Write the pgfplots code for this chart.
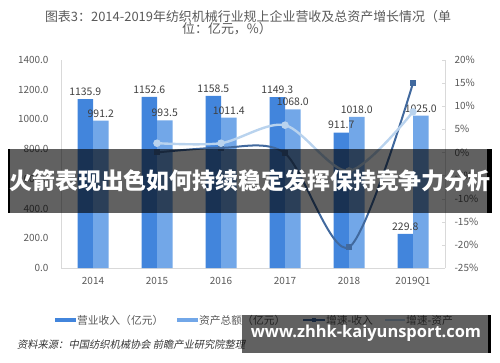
\documentclass[border=0pt]{standalone}
\usepackage{pgfplots}
\pgfplotsset{compat=1.18}
\usepackage{fontspec}
\setmainfont{Noto Sans CJK SC}
\newfontfamily\cjkit[FakeSlant=0.2]{Noto Sans CJK SC}
\newfontfamily\wm{Open Sans}
\definecolor{barA}{HTML}{4285DC}
\definecolor{barB}{HTML}{72A7E8}
\definecolor{lineA}{HTML}{41699E}
\definecolor{lineB}{HTML}{B9D3EE}
\definecolor{txt}{HTML}{595959}
\definecolor{lbl}{HTML}{404040}
\begin{document}
\begin{tikzpicture}[x=1bp,y=1bp]
\path[use as bounding box] (0,0) rectangle (500,362);
% title
\node[text=txt, font=\fontsize{13}{15}\selectfont] at (248,345) {图表3：2014-2019年纺织机械行业规上企业营收及总资产增长情况（单};
\node[text=txt, font=\fontsize{13}{15}\selectfont] at (227,333) {位：亿元，\%）};
\begin{axis}[at={(61bp,94bp)}, anchor=south west, scale only axis,
  width=384bp, height=208bp,
  xmin=-0.5, xmax=5.5, ymin=0, ymax=1400,
  axis x line*=bottom, axis y line*=left,
  axis line style={draw=black!15, -},
  xtick={0,...,5}, xticklabels={2014,2015,2016,2017,2018,2019Q1},
  ytick={0,200,...,1400},
  major tick length=0pt,
  /pgf/number format/assume math mode=true,
  yticklabel style={/pgf/number format/.cd, fixed, fixed zerofill, precision=1, 1000 sep={}, /tikz/.cd,
     font=\fontsize{10}{12}\selectfont, text=txt, xshift=-9bp},
  xticklabel style={font=\fontsize{10}{12}\selectfont, text=txt, yshift=-6bp},
  ybar=0pt, bar width=15.5bp,
  nodes near coords={\pgfmathprintnumber[fixed,fixed zerofill,precision=1,1000 sep={}]{\pgfplotspointmeta}},
  every node near coord/.append style={font=\fontsize{10.5}{12}\selectfont, text=lbl},
]
\addplot[fill=barA, draw=none] coordinates {(0,1135.9)(1,1152.6)(2,1158.5)(3,1149.3)(4,911.7)(5,229.8)};
\addplot[fill=barB, draw=none] coordinates {(0,991.2)(1,993.5)(2,1011.4)(3,1068.0)(4,1018.0)(5,1025.0)};
\end{axis}
\begin{axis}[at={(61bp,94bp)}, anchor=south west, scale only axis,
  width=384bp, height=208bp,
  xmin=-0.5, xmax=5.5, ymin=-25, ymax=20,
  axis x line=none, axis y line*=right,
  axis line style={draw=black!15, -},
  ytick={-25,-20,...,20},
  major tick length=3bp, tick style={draw=black!15},
  /pgf/number format/assume math mode=true,
  yticklabel={\pgfmathprintnumber{\tick}\%},
  yticklabel style={font=\fontsize{10}{12}\selectfont, text=txt, xshift=6bp},
]
\addplot[lineA, line width=2bp, smooth, mark=square*, mark size=2bp, mark options={fill=lineA}] coordinates {(1,0)(2,1)(3,-0.2)(4,-20.5)(5,15)};
\addplot[lineB, line width=2.4bp, smooth, mark=*, mark size=2.5bp, mark options={fill=lineB}] coordinates {(1,2)(2,2)(3,5.9)(4,-4)(5,8.8)};
\end{axis}
% banner
\fill[black, opacity=0.62] (8,149) rectangle (492,213);
\fill[black] (487,149) rectangle (492,213);
\fill[black] (8,149) rectangle (10,213);
\node[text=white, inner sep=0pt, font=\fontsize{23}{25}\selectfont\bfseries] at (250,181) {火箭表现出色如何持续稳定发挥保持竞争力分析};
% legend
\fill[barA] (55,40) rectangle (76,44);
\node[anchor=west, inner sep=1bp, text=txt, font=\fontsize{10.8}{12}\selectfont] at (76,42) {营业收入（亿元）};
\fill[barB] (177,40) rectangle (198,44);
\node[anchor=west, inner sep=1bp, text=txt, font=\fontsize{10.8}{12}\selectfont] at (198,42) {资产总额（亿元）};
\draw[lineA, line width=2bp] (303,42) -- (325,42);
\fill[lineA] (312,40) rectangle (316,44);
\node[anchor=west, inner sep=1bp, text=txt, font=\fontsize{10.8}{12}\selectfont] at (325,42) {增速-收入};
\draw[lineB, line width=2bp] (385,42) -- (405,42);
\node[anchor=west, inner sep=1bp, text=txt, font=\fontsize{10.8}{12}\selectfont] at (405,42) {增速-资产};
% source
\node[anchor=west, inner sep=0pt, text=black!80, font=\fontsize{10.3}{12}\selectfont\cjkit] at (17,17) {资料来源：中国纺织机械协会 前瞻产业研究院整理};
% watermark
\fill[black, opacity=0.62] (242,9) rectangle (490,47);
\fill[black] (488,9) rectangle (491,47);
\node[text=white, font=\fontsize{16.5}{18}\selectfont\wm\bfseries] at (366,29) {www.zhhk-kaiyunsport.com};
\end{tikzpicture}
\end{document}
